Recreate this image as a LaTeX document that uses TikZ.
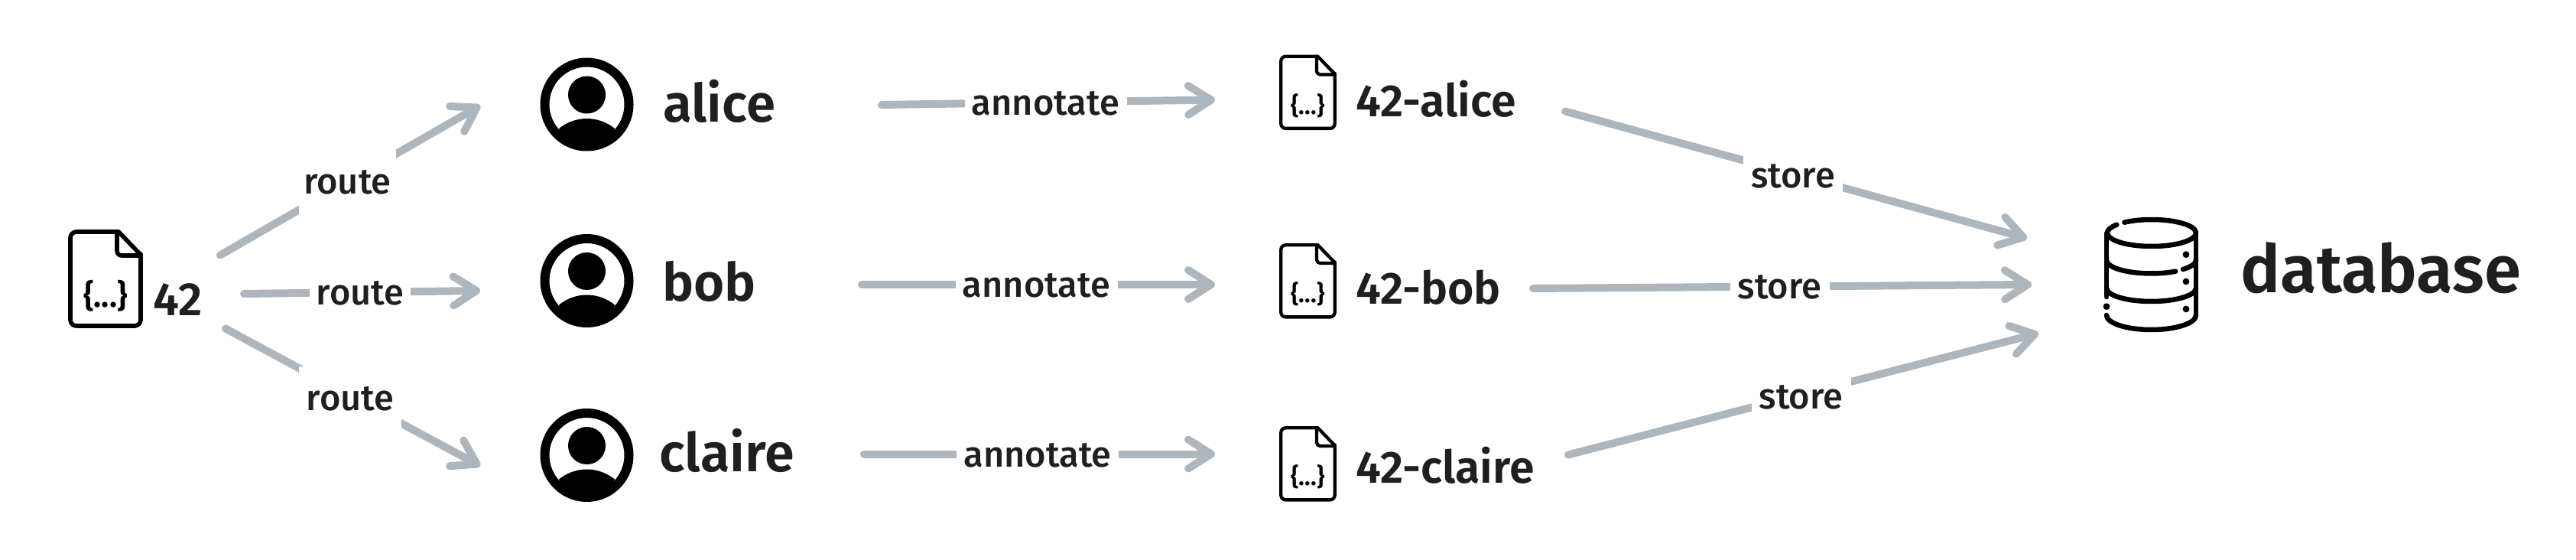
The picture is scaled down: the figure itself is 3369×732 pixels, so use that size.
\documentclass[tikz,border=0pt]{standalone}
\usepackage{fontspec}
\setmainfont{Fira Sans}[UprightFont=* SemiBold,BoldFont=* SemiBold]
\newfontfamily\labelfont{Fira Sans Medium}
\usetikzlibrary{arrows.meta}
\definecolor{ink}{HTML}{1F1F1F}
\definecolor{flow}{HTML}{ADB5BD}
\newcommand\sz[1]{\fontsize{#1}{#1}\selectfont}
\tikzset{
  x=.5pt,y=-.5pt,
  flowline/.style={draw=flow,line width=5pt,line cap=round,
    -{Straight Barb[length=15pt,width=19pt,round]}},
  edgelabel/.style={fill=white,text=ink,inner sep=0pt,font=\labelfont\sz{23.5},text height=12pt,text depth=0pt},
  title/.style={anchor=base west,inner sep=0pt,text=ink},
  iconline/.style={draw=black,line cap=round,line join=round},
}
% top-left x, y, scale, name, brace font size
\newcommand\docicon[5]{%
  \begin{scope}[shift={(#1,#2)},scale=#3]
    \draw[iconline,line width=#3*2.8pt,rounded corners=#3*4pt]
      (66,3) -- (3,3) -- (3,126) -- (95,126) -- (95,32);
    \draw[iconline,line width=#3*2.8pt] (95,33) -- (66,3);
    \draw[iconline,line width=#3*2.8pt,rounded corners=#3*3pt] (64,3) -- (64,34) -- (95,34);
    \node[inner sep=0pt,text=black] (#4) at (49,87) {\sz{#5}\bfseries\{...\}};
  \end{scope}}
% centre x, y, name
\newcommand\person[3]{%
  \begin{scope}[shift={(#1,#2)}]
    \coordinate (#3) at (0,0);
    \fill[black,even odd rule] (0,0) circle[radius=30.5pt] (0,0) circle[radius=24.5pt];
    \fill[black] (0,-12.5) circle[radius=12.25pt];
    \fill[black] (-36.5,31.5) .. controls (-26,23) and (-13,18.5) .. (0,18.5)
       .. controls (13,18.5) and (26,23) .. (36.5,31.5)
       .. controls (27,50) and (14,60) .. (0,60)
       .. controls (-14,60) and (-27,50) .. (-36.5,31.5) -- cycle;
  \end{scope}}
\begin{document}
\begin{tikzpicture}
\useasboundingbox (0,0) rectangle (3369,732);
% connector ends
\coordinate (r1s) at (288,333.5); \coordinate (r1e) at (628,138);
\coordinate (r2s) at (319,384); \coordinate (r2e) at (628,380);
\coordinate (r3s) at (295,429.5); \coordinate (r3e) at (628,609);
\coordinate (a1s) at (1153,137); \coordinate (a1e) at (1589,130.5);
\coordinate (a2s) at (1127,372); \coordinate (a2e) at (1589,372);
\coordinate (a3s) at (1130,593.5); \coordinate (a3e) at (1589,593.5);
\coordinate (s1s) at (2047,145.5); \coordinate (s1e) at (2651,311.5);
\coordinate (s2s) at (2005,377); \coordinate (s2e) at (2657,372);
\coordinate (s3s) at (2051,594.5); \coordinate (s3e) at (2666,435.6);
\foreach \a/\b in {r1s/r1e,r2s/r2e,r3s/r3e,a1s/a1e,a2s/a2e,a3s/a3e,s1s/s1e,s2s/s2e,s3s/s3e}
  \draw[flowline] (\a) -- (\b);
% edge labels
\node[edgelabel,minimum width=63.5pt,minimum height=46pt] (lr1) at (454.5,242) {route};
\node[edgelabel,minimum width=66pt] (lr2) at (471,387) {route};
\node[edgelabel,minimum width=67pt,minimum height=46pt] (lr3) at (458,525) {route};
\node[edgelabel,minimum width=106pt] (la1) at (1367.5,139) {annotate};
\node[edgelabel,minimum width=106pt] (la2) at (1355.5,377) {annotate};
\node[edgelabel,minimum width=106pt] (la3) at (1357,598.5) {annotate};
\node[edgelabel,minimum width=65pt,minimum height=34pt] (ls1) at (2345,234) {store};
\node[edgelabel,minimum width=65pt] (ls2) at (2327.5,379) {store};
\node[edgelabel,minimum width=65pt,minimum height=34pt] (ls3) at (2355.5,523) {store};
% source document
\docicon{89}{300}{1}{src}{21}
\node[title,font=\sz{30.5}] (n42) at (200,413) {42};
% people
\person{767.5}{136.5}{pa}
\person{767.5}{367}{pb}
\person{767.5}{595}{pc}
\node[title,font=\sz{34.5}] (alice) at (867,160) {alice};
\node[title,font=\sz{34.5}] (bob) at (866,393.5) {bob};
\node[title,font=\sz{35}] (claire) at (862,617) {claire};
% annotated documents
\docicon{1673}{71.5}{.765}{da}{16}
\docicon{1673}{318}{.765}{db}{16}
\docicon{1673}{557}{.765}{dc}{16}
\node[title,font=\sz{29.5}] (n42a) at (1773,153) {42-alice};
\node[title,font=\sz{29.5}] (n42b) at (1773,398) {42-bob};
\node[title,font=\sz{29.5}] (n42c) at (1773,632) {42-claire};
% database
\begin{scope}[iconline,line width=3.25pt]
  \draw (2814,304.5) ++(128:58 and -17.5) arc[start angle=128,end angle=-218,x radius=58,y radius=-17.5];
  \draw (2755,388) -- (2755,305);
  \draw (2872,305) -- (2872,412);
  \draw (2755,412) arc[start angle=180,end angle=360,x radius=58.5,y radius=-19];
  \draw (2755,340) arc[start angle=180,end angle=303,x radius=58.5,y radius=-17.5];
  \draw (2855,352) arc[start angle=315,end angle=360,x radius=58.5,y radius=-17.5];
  \draw (2755,376.5) arc[start angle=180,end angle=360,x radius=58.5,y radius=-17.5];
\end{scope}
\fill (2755,400.7) circle[radius=2.2pt];
\fill (2859,332.7) circle[radius=2.2pt];
\fill (2859,368) circle[radius=2.2pt];
\fill (2859,404) circle[radius=2.2pt];
\node[title,font=\sz{43.5}] (dbt) at (2930,383) {database};
\end{tikzpicture}
\end{document}
